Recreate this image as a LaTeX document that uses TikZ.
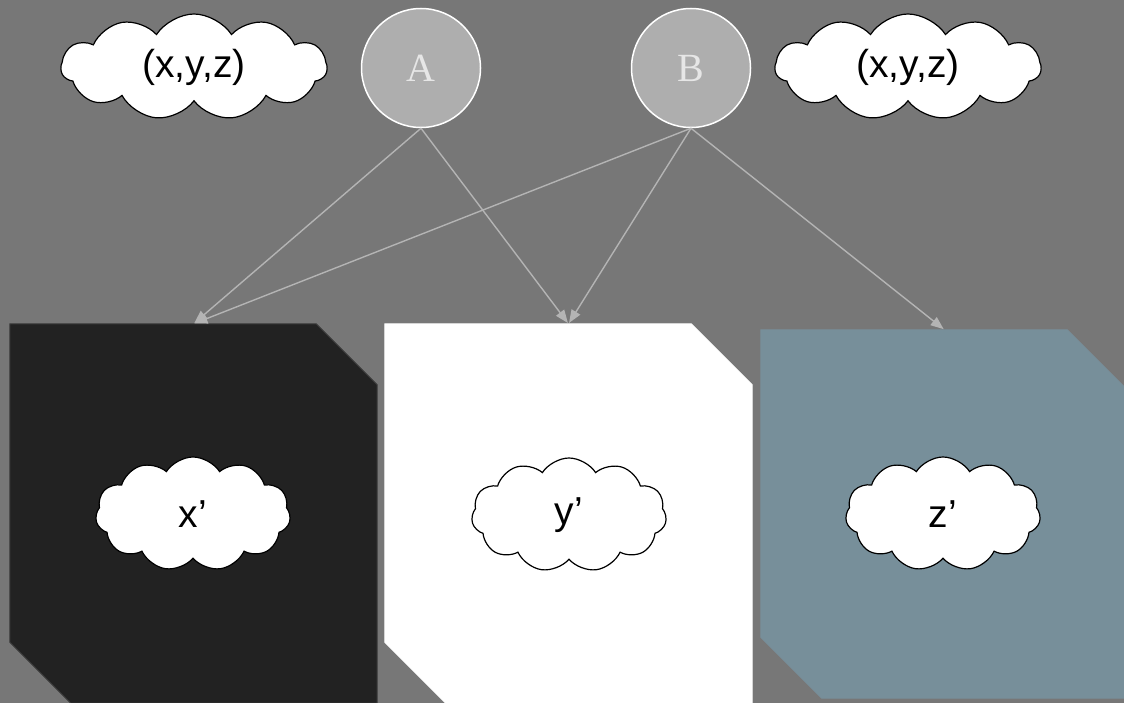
\documentclass[tikz,border=0pt]{standalone}
\usepackage{fontspec}
\setmainfont{Liberation Serif}
\setsansfont{Liberation Sans}
\usetikzlibrary{shapes.symbols,arrows.meta,calc}
\definecolor{bggray}{HTML}{777777}
\definecolor{nodegray}{HTML}{AEAEAE}
\definecolor{lettergray}{HTML}{E6E6E6}
\definecolor{edgegray}{HTML}{B4B4B4}
\definecolor{darkbox}{HTML}{222222}
\definecolor{darkedge}{HTML}{3A3A3A}
\definecolor{slatebox}{HTML}{778F9A}
\tikzset{
  varnode/.style={circle, draw=white, line width=1.5pt, fill=nodegray,
    minimum size=119pt, inner sep=0pt, text=lettergray,
    font=\fontsize{40}{42}\selectfont},
  puff/.style={cloud, cloud puffs=11, cloud puff arc=115, aspect=2.4,
    draw=black, line width=1.2pt, fill=white, inner sep=0pt,
    font=\sffamily\fontsize{39}{42}\selectfont},
  bigpuff/.style={puff, minimum width=266pt, minimum height=106pt},
  smallpuff/.style={puff, minimum width=195pt, minimum height=114pt},
  panel/.style={rectangle, inner sep=0pt, draw=none},
  link/.style={draw=edgegray, line width=1.4pt,
    -{Triangle[length=13pt,width=10pt]}, shorten >=1pt}
}
% a panel outline with its north-east and south-west corners cut off
\newcommand\cutpanel[3]{%
  \filldraw[fill=#2, draw=#3, line width=1pt]
    (#1.north west) -- ($(#1.north east)+(-61,0)$) -- ($(#1.north east)+(0,61)$)
    -- (#1.south east) -- ($(#1.south west)+(61,0)$) -- ($(#1.south west)+(0,-61)$)
    -- cycle;}
\begin{document}
\begin{tikzpicture}[x=1pt,y=-1pt]
  \fill[bggray] (0,0) rectangle (1124,703);
  \useasboundingbox (0,0) rectangle (1124,703);

  % panels
  \node[panel, minimum width=367pt, minimum height=379pt] (px) at (193.5,513.5) {};
  \node[panel, minimum width=367pt, minimum height=379pt] (py) at (568.5,513.5) {};
  \node[panel, minimum width=367pt, minimum height=368pt] (pz) at (944.5,514) {};
  \cutpanel{px}{darkbox}{darkedge}
  \cutpanel{py}{white}{white}
  \cutpanel{pz}{slatebox}{slatebox}

  % clouds inside panels
  \node[smallpuff] (cx) at (193,514) {x’};
  \node[smallpuff] (cy) at (569,515) {y’};
  \node[smallpuff] (cz) at (943,514) {z’};

  % top clouds
  \node[bigpuff] (tl) at (194,67) {(x,y,z)};
  \node[bigpuff] (tr) at (908,67) {(x,y,z)};

  % variable nodes
  \node[varnode] (A) at (421,68) {A};
  \node[varnode] (B) at (691,68) {B};

  % connectors
  \draw[link] (A.south) -- (px.north);
  \draw[link] (B.south) -- (px.north);
  \draw[link] (A.south) -- (py.north);
  \draw[link] (B.south) -- (py.north);
  \draw[link] (B.south) -- (pz.north);
\end{tikzpicture}
\end{document}
